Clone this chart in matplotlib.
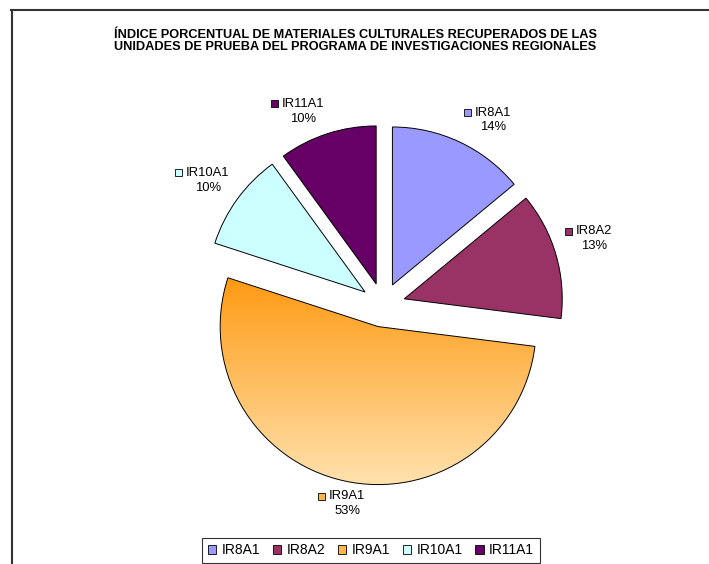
import matplotlib
matplotlib.use("Agg")
import matplotlib.pyplot as plt
import numpy as np
from matplotlib.patches import Rectangle, Patch
from matplotlib.offsetbox import AnnotationBbox, DrawingArea, TextArea, HPacker, VPacker
from matplotlib.colors import LinearSegmentedColormap
from matplotlib.lines import Line2D

# Data
units = ["IR8A1", "IR8A2", "IR9A1", "IR10A1", "IR11A1"]
percent = [14, 13, 53, 10, 10]
colors = ["#9999FF", "#993366", "#FF9A14", "#CCFFFF", "#660066"]
title = ("ÍNDICE PORCENTUAL DE MATERIALES CULTURALES RECUPERADOS DE LAS\n"
         "UNIDADES DE PRUEBA DEL PROGRAMA DE INVESTIGACIONES REGIONALES")

plt.rcParams['font.family'] = ['Liberation Sans', 'DejaVu Sans']

W, H = 709, 564
fig = plt.figure(figsize=(W / 100, H / 100), dpi=100)

# pie centre and radius in pixels
cx, cy, r = 383, 305, 158
ax = fig.add_axes([0, 0, 1, 1])

wedges, _ = ax.pie(percent, colors=colors, explode=[0.14] * len(percent),
                   startangle=90, counterclock=False, radius=1,
                   wedgeprops=dict(edgecolor='black', linewidth=0.7),
                   frame=True)
ax.set_aspect('auto')
ax.axis('off')

# vertical gradient fill for the large slice
big = wedges[2]
bb = big.get_path().get_extents()
cmap = LinearSegmentedColormap.from_list("sunset", ["#FF9A14", "#FFE2AE"])
grad = np.linspace(0, 1, 256).reshape(-1, 1)
img = ax.imshow(grad, cmap=cmap, extent=[bb.x0, bb.x1, bb.y0, bb.y1],
                origin='upper', aspect='auto', zorder=big.get_zorder() + 0.1)
img.set_clip_path(big)
big.set_facecolor('none')
big.set_zorder(big.get_zorder() + 0.2)
ax.set_xlim(-cx / r, (W - cx) / r)
ax.set_ylim((cy - H) / r, cy / r)

# data labels: legend key + name, percentage below
swatch_colors = colors[:]
swatch_colors[2] = "#FFB54A"
for wdg, name, pct, col in zip(wedges, units, percent, swatch_colors):
    mid = np.deg2rad((wdg.theta1 + wdg.theta2) / 2)
    c, s = np.cos(mid), np.sin(mid)
    bx = 0.0 if c > 0.25 else (1.0 if c < -0.25 else 0.5)
    by = 0.0 if s > 0.25 else (1.0 if s < -0.25 else 0.5)
    da = DrawingArea(5, 5)
    da.add_artist(Rectangle((0, 0), 5, 5, facecolor=col, edgecolor='black', linewidth=0.6))
    blank = DrawingArea(5, 5)
    tp = dict(fontsize=9.4, color='black')
    row1 = HPacker(children=[da, TextArea(name, textprops=tp)], sep=3, align='center', pad=0)
    row2 = HPacker(children=[blank, TextArea(f"{pct}%", textprops=tp)], sep=3, align='center', pad=0)
    box = VPacker(children=[row1, row2], sep=2, align='center', pad=0)
    ab = AnnotationBbox(box, (1.2 * c, 1.2 * s), xycoords='data',
                        box_alignment=(bx, by), frameon=False, pad=0)
    ax.add_artist(ab)

# title
fig.text(355 / W, 1 - 41 / H, title, ha='center', va='center',
         fontsize=9.2, fontweight='bold', linespacing=1.1)

# legend
handles = [Patch(facecolor=c, edgecolor='black', linewidth=0.6) for c in swatch_colors]
leg = fig.legend(handles, units, loc='center', bbox_to_anchor=(371 / W, 1 - 550.5 / H),
                 ncol=5, frameon=True, fancybox=False, edgecolor='black', fontsize=10,
                 handlelength=0.6, handleheight=0.6, handletextpad=0.4,
                 columnspacing=0.9, borderpad=0.4, borderaxespad=0)
leg.get_frame().set_linewidth(0.8)

# chart-area frame (top and left edges)
fig.add_artist(Line2D([11 / W, 1], [1 - 9.5 / H] * 2, transform=fig.transFigure,
                      color='#333333', lw=1.5))
fig.add_artist(Line2D([11.5 / W] * 2, [0, 1 - 9.5 / H], transform=fig.transFigure,
                      color='#333333', lw=1.5))

fig.savefig("out.png", dpi=100)
